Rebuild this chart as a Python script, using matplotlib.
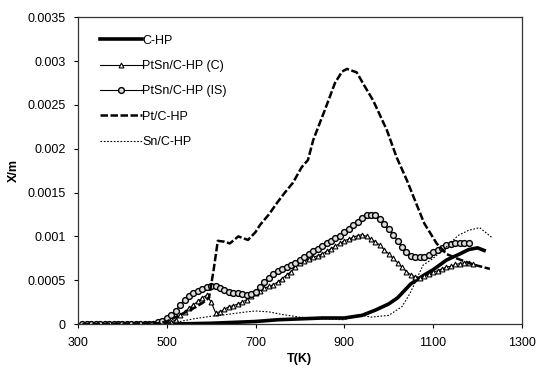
import matplotlib
matplotlib.use("Agg")
import matplotlib.pyplot as plt
from matplotlib.ticker import FixedLocator, FuncFormatter

plt.rcParams['font.family'] = ['Liberation Sans', 'DejaVu Sans']

# C-HP (thick solid)
t_chp = [310, 400, 500, 600, 700, 750, 800, 850, 900, 940, 970, 1000, 1020, 1050,
         1080, 1100, 1130, 1160, 1180, 1200, 1215]
x_chp = [0.0, 0.0, 0.0, 0.00001, 0.00003, 0.00005, 0.00006, 0.00007, 0.00007, 0.0001, 0.00016,
         0.00023, 0.0003, 0.00046, 0.00056, 0.00062, 0.00073, 0.0008, 0.00085, 0.00087, 0.00084]

# PtSn/C-HP (C), triangles
t_c = list(range(310, 1200, 10))
x_c = [0.0] * 20 + [
    0.00002, 0.00005, 0.0001, 0.00014, 0.00018, 0.00022, 0.00026, 0.0003, 0.00033, 0.00025,
    0.00013, 0.00014, 0.00017, 0.0002, 0.00021, 0.00023, 0.00025, 0.00028, 0.00032, 0.00035,
    0.00038, 0.00041, 0.00043, 0.00045, 0.00048, 0.00052, 0.00056, 0.0006, 0.00065, 0.0007,
    0.00072, 0.00074, 0.00076, 0.00078, 0.0008, 0.00083, 0.00086, 0.00089, 0.00092, 0.00095,
    0.00097, 0.00099, 0.00101, 0.00102, 0.001, 0.00097, 0.00094, 0.0009, 0.00085, 0.0008,
    0.00075, 0.0007, 0.00065, 0.0006, 0.00056, 0.00054, 0.00053, 0.00055, 0.00057, 0.00059,
    0.00061, 0.00063, 0.00065, 0.00066, 0.00068, 0.00069, 0.0007, 0.0007, 0.00069]

# PtSn/C-HP (IS), circles
t_is = list(range(310, 1190, 10))
x_is = [0.0] * 17 + [
    0.00002, 0.00004, 0.00007, 0.0001, 0.00015, 0.00022, 0.00028, 0.00032, 0.00036, 0.00038,
    0.0004, 0.00042, 0.00043, 0.00043, 0.00041, 0.00039, 0.00037, 0.00036, 0.00035, 0.00034,
    0.00033, 0.00034, 0.00037, 0.00042, 0.00048, 0.00053, 0.00057, 0.00061, 0.00063, 0.00065,
    0.00067, 0.0007, 0.00073, 0.00076, 0.0008, 0.00083, 0.00086, 0.00089, 0.00092, 0.00095,
    0.00098, 0.00101, 0.00105, 0.00109, 0.00113, 0.00117, 0.00121, 0.00124, 0.00125, 0.00124,
    0.0012, 0.00114, 0.00108, 0.00102, 0.00095, 0.00088, 0.00082, 0.00078, 0.00076, 0.00076,
    0.00077, 0.00079, 0.00082, 0.00085, 0.00087, 0.0009, 0.00091, 0.00092, 0.00093, 0.00093,
    0.00092]

# Pt/C-HP (thick dashed)
t_pt = [310, 480, 500, 520, 540, 560, 580, 595, 605, 615, 630, 642, 661, 683, 700, 710,
        730, 748, 766, 784, 804, 818, 830, 856, 879, 895, 906, 928, 945, 965, 996, 1018,
        1041, 1060, 1080, 1108, 1130, 1153, 1190, 1228]
x_pt = [0.0, 0.00001, 0.00003, 0.00008, 0.00013, 0.00018, 0.00024, 0.0003, 0.0006, 0.00095,
        0.00094, 0.00092, 0.001, 0.00096, 0.00105, 0.00113, 0.00125, 0.00138, 0.0015, 0.00161,
        0.00179, 0.00187, 0.0021, 0.00244, 0.00275, 0.00288, 0.00291, 0.00287, 0.00272, 0.00255,
        0.00221, 0.0019, 0.00164, 0.0014, 0.00115, 0.00092, 0.0008, 0.00075, 0.00068, 0.00063]

# Sn/C-HP (thin dotted)
t_sn = [500, 530, 560, 600, 620, 650, 680, 700, 730, 760, 800, 850, 900, 930, 960, 1000,
        1030, 1048, 1060, 1077, 1100, 1130, 1156, 1180, 1205, 1232]
x_sn = [0.0, 0.00003, 0.00006, 0.00009, 0.0001, 0.00012, 0.00014, 0.00015, 0.00014, 0.00011,
        0.00008, 0.00006, 0.00005, 0.00011, 0.00008, 0.0001, 0.0002, 0.00035, 0.00048, 0.00067,
        0.00075, 0.00088, 0.00101, 0.00107, 0.0011, 0.00099]

fig = plt.figure(figsize=(5.38, 3.73), dpi=100)
ax = fig.add_axes([0.145, 0.131, 0.825, 0.823])

ax.plot(t_chp, x_chp, '-', color='black', lw=2.6, label='C-HP')
ax.plot(t_c, x_c, '-', color='black', lw=0.8, marker='^', ms=3.5, mfc='white', mec='black',
        mew=0.8, label='PtSn/C-HP (C)')
ax.plot(t_is, x_is, '-', color='black', lw=0.8, marker='o', ms=4.2, mfc='#dddddd', mec='black',
        mew=1.0, label='PtSn/C-HP (IS)')
ax.plot(t_pt, x_pt, color='black', lw=1.8, dashes=(3, 1), label='Pt/C-HP')
ax.plot(t_sn, x_sn, color='black', lw=0.8, dashes=(1.5, 1.5), label='Sn/C-HP')

ax.set_xlim(300, 1300)
ax.set_ylim(0, 0.0035)
ax.xaxis.set_major_locator(FixedLocator([300, 500, 700, 900, 1100, 1300]))
ax.yaxis.set_major_locator(FixedLocator([0, 0.0005, 0.001, 0.0015, 0.002, 0.0025, 0.003, 0.0035]))
ax.yaxis.set_major_formatter(FuncFormatter(lambda v, p: '0' if v == 0 else ('%.4f' % v).rstrip('0')))
ax.tick_params(axis='both', labelsize=9, length=3, width=0.8, direction='out', pad=6)
for s in ax.spines.values():
    s.set_linewidth(0.9)
    s.set_color('#333333')

ax.set_xlabel('T(K)', fontsize=9, fontweight='bold', labelpad=3)
ax.set_ylabel('X/m', fontsize=9, fontweight='bold', labelpad=5)

ax.legend(loc='upper left', bbox_to_anchor=(0.025, 0.98), frameon=False, fontsize=9,
          handlelength=3.3, handletextpad=0.05, labelspacing=1.07, numpoints=1)

fig.savefig('out.png', dpi=100)
